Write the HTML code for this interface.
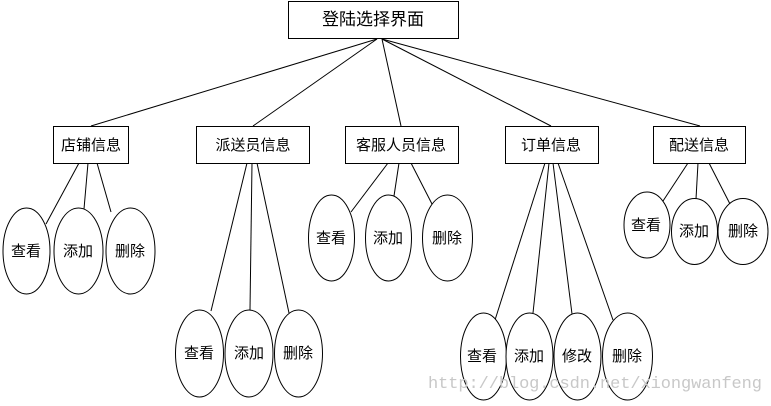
<!DOCTYPE html>
<html><head><meta charset="utf-8"><style>
body{margin:0;background:#fff;width:771px;height:401px;overflow:hidden}
text{font-family:"Liberation Sans","Noto Sans CJK SC",sans-serif;font-size:15px;fill:#000}
</style></head><body>
<svg width="771" height="401" viewBox="0 0 771 401" xmlns="http://www.w3.org/2000/svg">
<g stroke="#000" stroke-width="1" fill="none">
<line x1="377" y1="39" x2="91" y2="126"/>
<line x1="377" y1="39" x2="253" y2="126"/>
<line x1="382" y1="39" x2="401" y2="126"/>
<line x1="382" y1="39" x2="551" y2="126"/>
<line x1="382" y1="39" x2="700" y2="126"/>
<line x1="79" y1="163" x2="46" y2="224"/>
<line x1="88" y1="163" x2="84" y2="209"/>
<line x1="97" y1="163" x2="111" y2="212"/>
<line x1="247" y1="163" x2="211" y2="311"/>
<line x1="252" y1="163" x2="250" y2="310"/>
<line x1="257" y1="163" x2="289" y2="313"/>
<line x1="388" y1="163" x2="351" y2="212"/>
<line x1="399" y1="163" x2="394" y2="196"/>
<line x1="411" y1="163" x2="432" y2="204"/>
<line x1="545" y1="163" x2="495" y2="320"/>
<line x1="549" y1="163" x2="533" y2="313"/>
<line x1="553" y1="163" x2="572" y2="314"/>
<line x1="558" y1="163" x2="613" y2="320"/>
<line x1="688" y1="163" x2="663" y2="201"/>
<line x1="698" y1="163" x2="696" y2="199"/>
<line x1="709" y1="163" x2="730" y2="204"/>
</g>
<g stroke="#000" stroke-width="1" fill="#fff">
<rect x="288.5" y="1.5" width="170" height="37"/>
<rect x="53.5" y="126.5" width="75" height="37"/>
<rect x="196.5" y="126.5" width="113" height="37"/>
<rect x="345.5" y="126.5" width="113" height="37"/>
<rect x="505.5" y="126.5" width="93" height="37"/>
<rect x="653.5" y="126.5" width="92" height="37"/>
<ellipse cx="26.5" cy="251" rx="23.5" ry="43"/>
<ellipse cx="78.5" cy="251" rx="24.5" ry="43"/>
<ellipse cx="130.5" cy="251" rx="24.5" ry="43"/>
<ellipse cx="199.5" cy="353.5" rx="24" ry="43.5"/>
<ellipse cx="249" cy="353.5" rx="24" ry="43.5"/>
<ellipse cx="298.5" cy="353.5" rx="24" ry="43.5"/>
<ellipse cx="331.5" cy="238" rx="23" ry="43"/>
<ellipse cx="388.5" cy="238" rx="23" ry="43"/>
<ellipse cx="447.5" cy="238" rx="25" ry="43"/>
<ellipse cx="483.5" cy="356.5" rx="23" ry="43.5"/>
<ellipse cx="529.5" cy="356.5" rx="23.5" ry="43.5"/>
<ellipse cx="577.5" cy="356.5" rx="23.5" ry="43.5"/>
<ellipse cx="627.5" cy="356.5" rx="25" ry="43.5"/>
<ellipse cx="647" cy="225" rx="23" ry="33"/>
<ellipse cx="694.5" cy="231.5" rx="23" ry="33"/>
<ellipse cx="743" cy="231.5" rx="25" ry="33"/>
</g>
<g text-anchor="middle">
<text x="373" y="25" style="font-size:17px">登陆选择界面</text>
<text x="91" y="150">店铺信息</text>
<text x="253" y="150">派送员信息</text>
<text x="401" y="150">客服人员信息</text>
<text x="551" y="150">订单信息</text>
<text x="699" y="150">配送信息</text>
<text x="26" y="256">查看</text><text x="78" y="256">添加</text><text x="130" y="256">删除</text>
<text x="199" y="358">查看</text><text x="249" y="358">添加</text><text x="298" y="358">删除</text>
<text x="331" y="243">查看</text><text x="388" y="243">添加</text><text x="447" y="243">删除</text>
<text x="482" y="361">查看</text><text x="529" y="361">添加</text><text x="577" y="361">修改</text><text x="627" y="361">删除</text>
<text x="646" y="230">查看</text><text x="694" y="236">添加</text><text x="743" y="236">删除</text>
</g>
<text x="428" y="388" textLength="334" style="font-family:'Liberation Mono',monospace;font-size:17px;fill:#c8c8c8">http://blog.csdn.net/xiongwanfeng</text>
</svg>
</body></html>
